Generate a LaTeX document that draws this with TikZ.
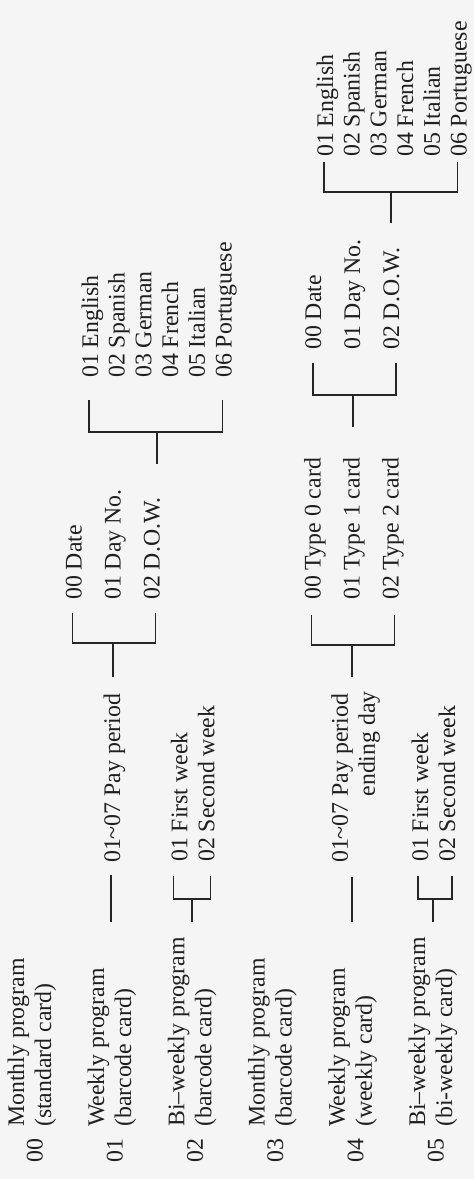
\documentclass[tikz,border=0pt]{standalone}
\usepackage{fontspec}
\setmainfont{Liberation Serif}
\usetikzlibrary{calc}

\tikzset{
  entry/.style={rotate=90, anchor=base west, inner sep=0pt, text=black!88},
  link/.style={draw=black!85, line width=1.5pt}
}

\begin{document}
\begin{tikzpicture}[x=1pt, y=-1pt, font=\fontsize{23.8}{27}\selectfont]

\fill[black!4] (0,0) rectangle (474,1179);

\node[entry] (n0) at (42.5,1163) {00};
\node[entry] (p0a) at (24,1127) {Monthly program};
\node[entry] (p0b) at (51,1127) {(standard card)};

\node[entry] (n1) at (122.7,1163) {01};
\node[entry] (p1a) at (104.2,1127) {Weekly program};
\node[entry] (p1b) at (131.2,1127) {(barcode card)};

\node[entry] (n2) at (202.9,1163) {02};
\node[entry] (p2a) at (184.4,1127) {Bi–weekly program};
\node[entry] (p2b) at (211.4,1127) {(barcode card)};

\node[entry] (n3) at (283.1,1163) {03};
\node[entry] (p3a) at (264.6,1127) {Monthly program};
\node[entry] (p3b) at (291.6,1127) {(barcode card)};

\node[entry] (n4) at (363.3,1163) {04};
\node[entry] (p4a) at (344.8,1127) {Weekly program};
\node[entry] (p4b) at (371.8,1127) {(weekly card)};

\node[entry] (n5) at (443.5,1163) {05};
\node[entry] (p5a) at (425,1127) {Bi–weekly program};
\node[entry] (p5b) at (452,1127) {(bi-weekly card)};

\node[entry] (pay1) at (120.2,863) {01\textasciitilde07 Pay period};

\node[entry] (wk1a) at (187.4,862) {01 First week};
\node[entry] (wk1b) at (214.4,862) {02 Second week};

\node[entry] (pay2a) at (347.8,863) {01\textasciitilde07 Pay period};
\node[entry] (pay2b) at (374.8,863) {\phantom{01\textasciitilde07} ending day};

\node[entry] (wk2a) at (428,862) {01 First week};
\node[entry] (wk2b) at (455,862) {02 Second week};

\node[entry] (dt1a) at (81.5,600) {00 Date};
\node[entry] (dt1b) at (120.5,600) {01 Day No.};
\node[entry] (dt1c) at (159.5,600) {02 D.O.W.};

\node[entry] (ty2a) at (320.5,600) {00 Type 0 card};
\node[entry] (ty2b) at (359.5,600) {01 Type 1 card};
\node[entry] (ty2c) at (398.5,600) {02 Type 2 card};

\node[entry] (dt2a) at (321,350) {00 Date};
\node[entry] (dt2b) at (360,350) {01 Day No.};
\node[entry] (dt2c) at (399,350) {02 D.O.W.};

\node[entry] (lg1a) at (98,378) {01 English};
\node[entry] (lg1b) at (124.7,378) {02 Spanish};
\node[entry] (lg1c) at (151.4,378) {03 German};
\node[entry] (lg1d) at (178.1,378) {04 French};
\node[entry] (lg1e) at (204.8,378) {05 Italian};
\node[entry] (lg1f) at (231.5,378) {06 Portuguese};

\node[entry] (lg2a) at (333,157) {01 English};
\node[entry] (lg2b) at (359.7,157) {02 Spanish};
\node[entry] (lg2c) at (386.4,157) {03 German};
\node[entry] (lg2d) at (413.1,157) {04 French};
\node[entry] (lg2e) at (439.8,157) {05 Italian};
\node[entry] (lg2f) at (466.5,157) {06 Portuguese};

\draw[link] ($(pay1.base west)+(-9,12)$) -- ++(0,47);

\draw[link] ($(wk1a.base west)+(-14,14)$) -- ++(0,23) -| ($(wk1b.base west)+(-4,14)$);
\draw[link] ($(wk1a.base west)!.5!(wk1b.base west)+(-9,37)$) -- ++(0,23);

\draw[link] ($(pay2a.base west)!.5!(pay2b.base west)+(-9.5,14)$) -- ++(0,45);

\draw[link] ($(wk2a.base west)+(-10,14)$) -- ++(0,23) -| ($(wk2b.base west)+(-3,14)$);
\draw[link] ($(wk2a.base west)!.5!(wk2b.base west)+(-8.5,37)$) -- ++(0,23);

\draw[link] ($(dt1a.base west)+(-9,13)$) -- ++(0,30) -| ($(dt1c.base west)+(-4,13)$);
\draw[link] ($(dt1a.base west)!.5!(dt1c.base west)+(-7.5,43)$) -- ++(0,34);

\draw[link] ($(ty2a.base west)+(-9,15)$) -- ++(0,30) -| ($(ty2c.base west)+(-4,15)$);
\draw[link] ($(ty2a.base west)!.5!(ty2c.base west)+(-7.5,45)$) -- ++(0,32);

\draw[link] ($(dt2a.base west)+(-8,13)$) -- ++(0,32) -| ($(dt2c.base west)+(-3,13)$);
\draw[link] ($(dt2a.base west)!.5!(dt2c.base west)+(-7,45)$) -- ++(0,32);

\draw[link] ($(lg1a.base west)+(-9,22)$) -- ++(0,32) -| ($(lg1f.base west)+(-9,22)$);
\draw[link] ($(lg1a.base west)!.5!(lg1f.base west)+(-8,54)$) -- ++(0,32);

\draw[link] ($(lg2a.base west)+(-9,5)$) -- ++(0,30) -| ($(lg2f.base west)+(-9,5)$);
\draw[link] ($(lg2a.base west)!.5!(lg2f.base west)+(-9,35)$) -- ++(0,31);

\end{tikzpicture}
\end{document}
